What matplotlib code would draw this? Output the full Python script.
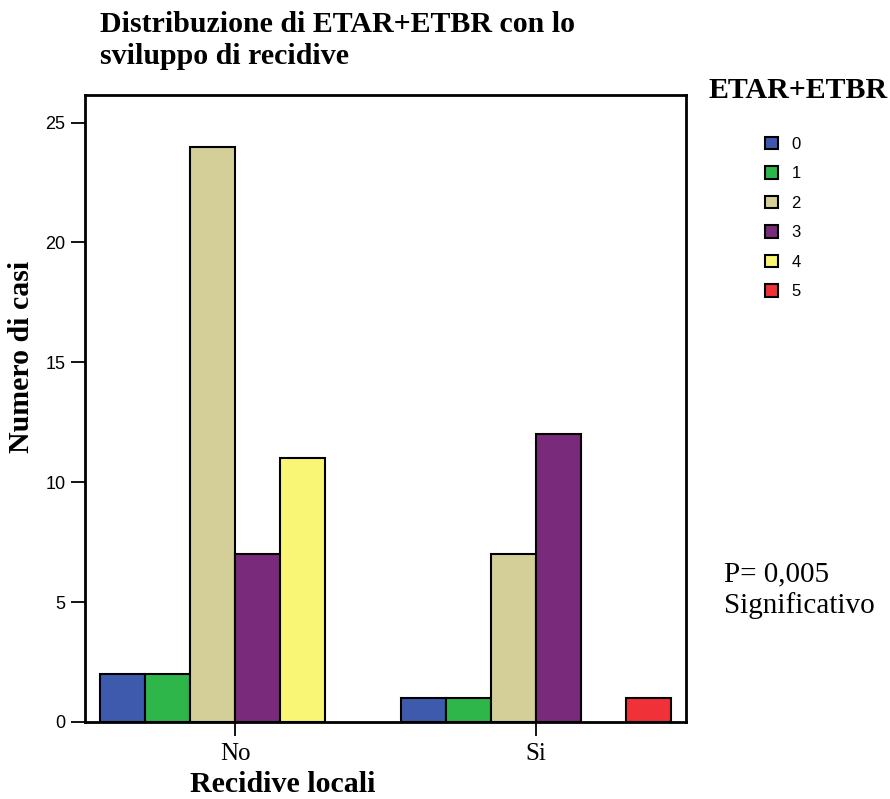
import matplotlib
matplotlib.use("Agg")
import matplotlib.pyplot as plt
from matplotlib.patches import Patch
import numpy as np

groups = ["No", "Si"]
levels = ["0", "1", "2", "3", "4", "5"]
counts_no = [2, 2, 24, 7, 11, 0]
counts_si = [1, 1, 7, 12, 0, 1]
colors = ["#3d5aad", "#2fb64a", "#d4cf98", "#7a2a7a", "#faf675", "#f03238"]
y_ticks = [0, 5, 10, 15, 20, 25]

serif = "Liberation Serif"
sans = "Liberation Sans"

fig = plt.figure(figsize=(8.9, 7.99), dpi=100)
ax = fig.add_axes([85 / 890, 77 / 799, 601 / 890, 627 / 799])

width = 0.15
x = np.arange(len(groups))
data = np.array([counts_no, counts_si])
for i, lvl in enumerate(levels):
    h = ax.bar(x + (i - 2.5) * width, data[:, i], width=width, color=colors[i],
               edgecolor="black", linewidth=1.5, label=lvl, zorder=2)
    # empty categories leave no outline on the baseline
    for p in h.patches:
        if p.get_height() == 0:
            p.set_visible(False)

ax.set_xlim(-0.5, 1.5)
ax.set_ylim(0, 26.15)
ax.set_yticks(y_ticks)
ax.set_yticklabels([str(v) for v in y_ticks], fontfamily=sans, fontsize=13)
ax.set_xticks(x)
ax.set_xticklabels(groups, fontfamily=serif, fontsize=18)
ax.tick_params(axis="both", direction="out", length=10, width=1.3, pad=4)
ax.tick_params(axis="x", pad=5)
for s in ax.spines.values():
    s.set_linewidth(2)

fig.text(22 / 890, 1 - 357 / 799, "Numero di casi", fontfamily=serif, fontweight="bold",
         fontsize=21.5, rotation=90, ha="center", va="center")
fig.text(283 / 890, 1 - 785 / 799, "Recidive locali", fontfamily=serif, fontweight="bold",
         fontsize=21.5, ha="center", va="center")

fig.text(100 / 890, 1 - 11 / 799, "Distribuzione di ETAR+ETBR con lo\nsviluppo di recidive",
         fontfamily=serif, fontweight="bold", fontsize=21.5, va="top", ha="left", linespacing=1.25)

fig.text(798 / 890, 1 - 90 / 799, "ETAR+ETBR", fontfamily=serif, fontweight="bold",
         fontsize=21.5, ha="center", va="center")

legend_handles = [Patch(facecolor=c, edgecolor="black", linewidth=1.5) for c in colors]
leg = fig.legend(handles=legend_handles, labels=levels, loc="upper left",
                 bbox_to_anchor=(758 / 890, 1 - 130 / 799), frameon=False,
                 prop={"family": sans, "size": 12}, handlelength=0.8, handleheight=0.8,
                 labelspacing=0.86, handletextpad=0.8, borderaxespad=0)

fig.text(724 / 890, 1 - 590 / 799, "P= 0,005\nSignificativo", fontfamily=serif,
         fontsize=21, ha="left", va="center", linespacing=1.2)

fig.savefig("out.png", dpi=100)
